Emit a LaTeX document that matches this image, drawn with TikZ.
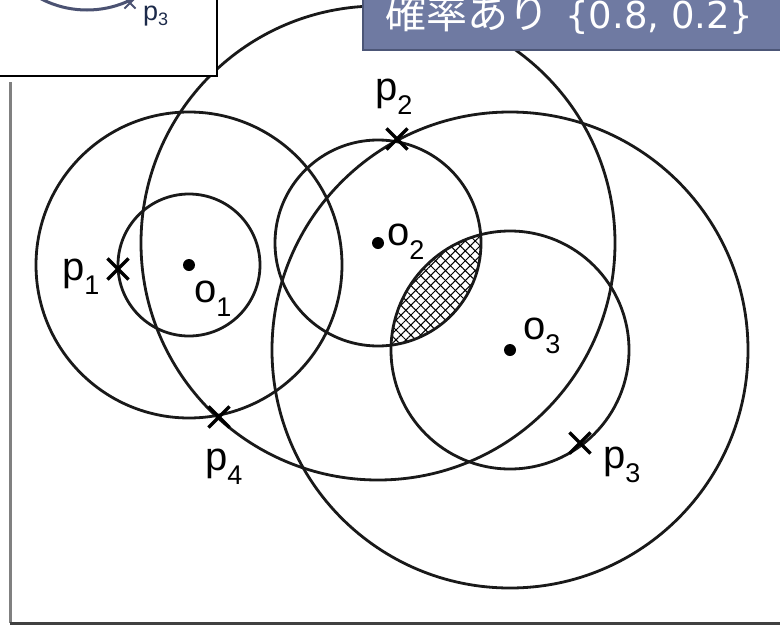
\documentclass[tikz,border=0pt]{standalone}
\usepackage{fontspec}
\setmainfont{Liberation Sans}
\newfontfamily\cjk{Noto Sans CJK JP}
\newfontfamily\tagfont{DejaVu Sans}
\usepackage{xcolor}
\usetikzlibrary{positioning, shapes.misc, patterns.meta}

\definecolor{boxblue}{HTML}{6F7AA2}
\definecolor{boxedge}{HTML}{4C5677}
\definecolor{slate}{HTML}{4B5272}
\definecolor{inkblue}{HTML}{1C2A4A}

\newcommand{\ptname}[2]{#1\raisebox{-14pt}{\fontsize{27}{27}\selectfont #2}}
\newcommand{\smallptname}[2]{#1\raisebox{-5pt}{\fontsize{18}{18}\selectfont #2}}

\begin{document}
\begin{tikzpicture}[x=1pt, y=-1pt,
  every node/.style={font=\fontsize{40}{40}\selectfont, inner sep=0pt},
  ring/.style={line width=2.8pt, draw=black!90},
  dot/.style={circle, fill=black, minimum size=12pt},
  xmark/.style={draw, cross out, minimum size=18pt, line width=3.2pt},
  hatch/.style={pattern={Lines[angle=#1, distance=7pt, line width=1pt]}}]
\useasboundingbox (0,0) rectangle (780,627);

% axes
\coordinate (top) at (10,82);
\coordinate (origin) at (10,623);
\coordinate (right) at (785,623);
\draw[line width=3pt, black!50] (top) -- (origin);
\draw[line width=3pt, black!75] (origin) -- (right);

% centres
\node[dot] (o1) at (189,265) {};
\node[dot] (o2) at (378,243) {};
\node[dot] (o3) at (510,350) {};

% hatched overlap of the two inner circles
\begin{scope}
\clip (o2) circle (103pt);
\fill[white] (o3) circle (119pt);
\fill[hatch=45] (o3) circle (119pt);
\fill[hatch=-45] (o3) circle (119pt);
\end{scope}

% circles
\draw[ring] (o1) circle (71pt) (o1) circle (153pt);
\draw[ring] (o2) circle (103pt) (o2) circle (237pt);
\draw[ring] (o3) circle (119pt) (o3) circle (238pt);

% points
\node[xmark] (p1) at (118,269) {};
\node[xmark] (p2) at (397,139) {};
\node[xmark] (p3) at (580,443) {};
\node[xmark] (p4) at (219,417) {};

% labels
\node[anchor=base west] (p1lbl) at (62,280) {\ptname{p}{1}};
\node[anchor=base west] (p2lbl) at (375,100) {\ptname{p}{2}};
\node[anchor=base west] (p3lbl) at (603,468) {\ptname{p}{3}};
\node[anchor=base west] (p4lbl) at (205,470) {\ptname{p}{4}};
\node[anchor=base west] (o1lbl) at (194,302) {\ptname{o}{1}};
\node[anchor=base west] (o2lbl) at (387,245) {\ptname{o}{2}};
\node[anchor=base west] (o3lbl) at (523,339) {\ptname{o}{3}};

% inset at top left
\draw[line width=2.5pt, fill=white] (-5,-5) rectangle (217,76);
\begin{scope}
\clip (-5,-5) rectangle (217,76);
\draw[slate, line width=3pt] (87,-90) circle (100pt);
\end{scope}
\node[draw=slate, cross out, minimum size=9pt, line width=2pt] (q3) at (130,3) {};
\node[anchor=base west, text=inkblue, font=\fontsize{27}{27}\selectfont] (q3lbl) at (143,20) {\smallptname{p}{3}};

% tag at top right
\draw[fill=boxblue, draw=boxedge, line width=1.5pt] (363,-10) rectangle (790,50);
\node[anchor=base west, text=white] (tag) at (385,28)
  {{\cjk\fontsize{41}{41}\selectfont 確率あり}\hspace{16pt}{\tagfont\fontsize{37}{37}\selectfont \{0.8, 0.2\}}};
\end{tikzpicture}
\end{document}
